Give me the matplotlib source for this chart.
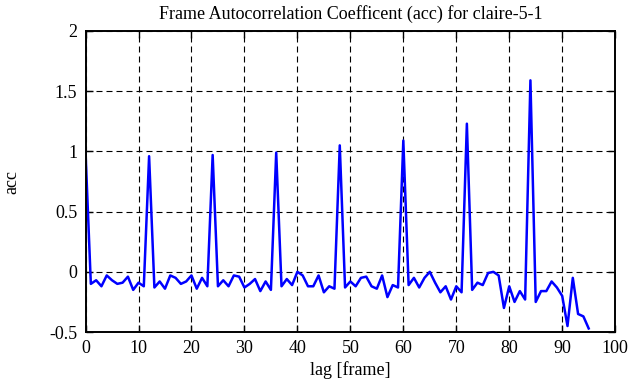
import numpy as np
import matplotlib
matplotlib.use("Agg")
import matplotlib.pyplot as plt
from matplotlib.ticker import FormatStrFormatter

plt.rcParams["font.family"] = ["Liberation Serif", "DejaVu Serif"]

# 自相关系数
acc = [
    0.99, -0.10, -0.07, -0.12, -0.03, -0.07, -0.10, -0.09, -0.04, -0.15,
    -0.09, -0.12, 0.96, -0.13, -0.08, -0.14, -0.03, -0.05, -0.10, -0.08,
    -0.03, -0.14, -0.05, -0.12, 0.97, -0.12, -0.07, -0.12, -0.03, -0.04,
    -0.13, -0.10, -0.06, -0.16, -0.08, -0.15, 0.99, -0.12, -0.06, -0.11,
    0.00, -0.03, -0.12, -0.12, -0.03, -0.17, -0.12, -0.14, 1.05, -0.13,
    -0.08, -0.12, -0.05, -0.04, -0.12, -0.14, -0.03, -0.21, -0.11, -0.13,
    1.09, -0.11, -0.05, -0.13, -0.05, 0.00, -0.09, -0.17, -0.12, -0.23,
    -0.12, -0.17, 1.23, -0.15, -0.09, -0.11, -0.01, 0.00, -0.03, -0.30,
    -0.12, -0.25, -0.16, -0.23, 1.59, -0.25, -0.16, -0.16, -0.08, -0.13,
    -0.20, -0.45, -0.05, -0.35, -0.37, -0.47,
]
lag = np.arange(len(acc))

xticks = [0, 10, 20, 30, 40, 50, 60, 70, 80, 90, 100]
yticks = [-0.5, 0, 0.5, 1, 1.5, 2]

fig = plt.figure(figsize=(6.29, 3.87), dpi=100)
ax = fig.add_axes([0.136, 0.142, 0.842, 0.778])
ax.plot(lag, acc, color="#0000ff", linewidth=1.8)

ax.set_xlim(0, 100)
ax.set_ylim(-0.5, 2)
ax.set_xticks(xticks)
ax.set_yticks(yticks)
ax.yaxis.set_major_formatter(FormatStrFormatter("%g"))
ax.grid(True, color="black", linestyle=(0, (5.4, 3.6)), linewidth=0.8)
ax.tick_params(direction="in", top=True, right=True, length=5, width=1.0,
               labelsize=13, pad=6)
for s in ax.spines.values():
    s.set_linewidth(1.4)

ax.set_title("Frame Autocorrelation Coefficent (acc) for claire-5-1", fontsize=13, pad=9)
ax.set_xlabel("lag [frame]", fontsize=13, labelpad=3)
ax.set_ylabel("acc", fontsize=13, labelpad=21)

fig.savefig("out.png", dpi=100)
